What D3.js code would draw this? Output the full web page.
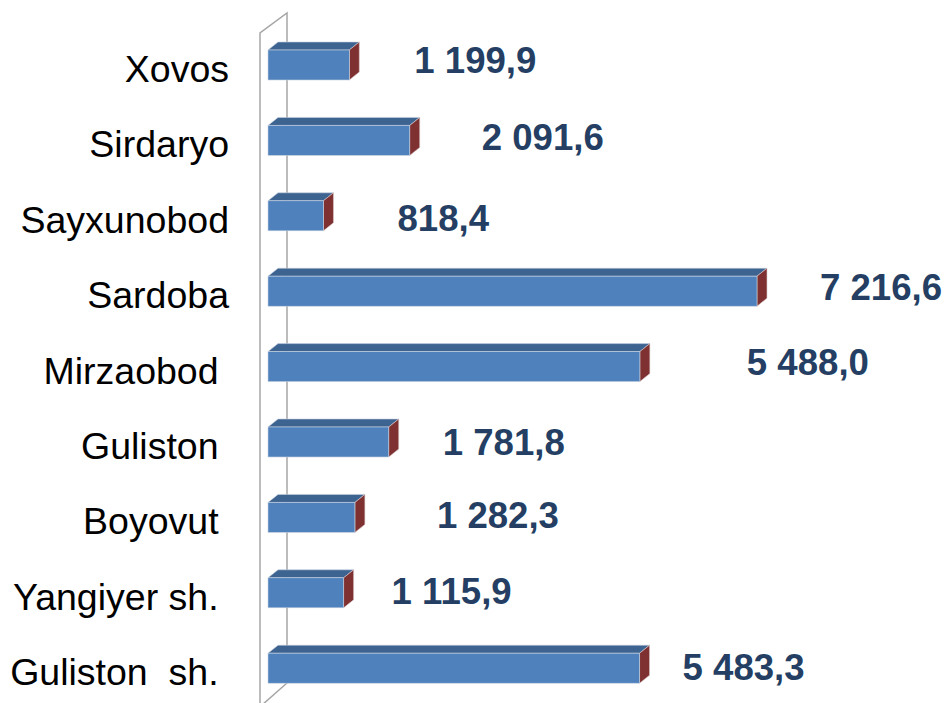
<!DOCTYPE html>
<html>
<head>
<meta charset="utf-8">
<script src="https://cdn.jsdelivr.net/npm/d3@7"></script>
<style>
  html, body { margin: 0; padding: 0; background: #ffffff; }
  svg text { white-space: pre; }
</style>
</head>
<body>
<div id="chart"></div>
<script>
// ---- data ----
const categories = ["Xovos", "Sirdaryo", "Sayxunobod", "Sardoba", "Mirzaobod ", "Guliston ", "Boyovut ", "Yangiyer sh. ", "Guliston  sh. "];
const values = [1199.9, 2091.6, 818.4, 7216.6, 5488.0, 1781.8, 1282.3, 1115.9, 5483.3];
const valueLabels = ["1 199,9", "2 091,6", "818,4", "7 216,6", "5 488,0", "1 781,8", "1 282,3", "1 115,9", "5 483,3"];

// ---- layout (manual label placement like the original) ----
const labelDx = [65, 72, 74, 63, 107, 54, 82, 48, 43];   // gap from bar end to label
const labelDy = [8, 10, 15, 9, 8, 13, 11, 11, 12];       // baseline offset from bar face top

const W = 946, H = 703;
const svg = d3.select("#chart").append("svg")
  .attr("width", W).attr("height", H)
  .attr("xml:space", "preserve");

const x = d3.scaleLinear().domain([0, 8000]).range([268, 268 + 8000 * 0.06776]);
const y = d3.scaleBand().domain(categories)
  .range([27.3, 27.3 + 9 * 75.4])
  .paddingInner(0.602).paddingOuter(0.301);

const depthX = 10, depthY = 8;

// wall (axis plane)
const wall = svg.append("g").attr("fill", "none").attr("stroke", "#a6a6a6").attr("stroke-width", 1.5);
wall.append("path").attr("d", `M260,${H + 2} L260,33 L287,13 L287,683 L262,${H + 2}`);

// bars
const g = svg.append("g");
const rows = categories.map((c, i) => ({ c, v: values[i], lab: valueLabels[i], i }));

const bar = g.selectAll("g.bar").data(rows).join("g").attr("class", "bar");

// top face
bar.append("path")
  .attr("d", d => {
    const x0 = x(0), x1 = x(d.v), y0 = y(d.c);
    return `M${x0},${y0} L${x0 + depthX},${y0 - depthY} L${x1 + depthX},${y0 - depthY} L${x1},${y0} Z`;
  })
  .attr("fill", "#3d6391")
  .attr("stroke", "#c9d3e0").attr("stroke-width", 0.6);

// right side face
bar.append("path")
  .attr("d", d => {
    const x1 = x(d.v), y0 = y(d.c), y1 = y0 + y.bandwidth();
    return `M${x1},${y0} L${x1 + depthX},${y0 - depthY} L${x1 + depthX},${y1 - depthY} L${x1},${y1} Z`;
  })
  .attr("fill", "#7f3131")
  .attr("stroke", "#d9c9c9").attr("stroke-width", 0.6);

// front face
bar.append("rect")
  .attr("x", x(0))
  .attr("y", d => y(d.c))
  .attr("width", d => x(d.v) - x(0))
  .attr("height", y.bandwidth())
  .attr("fill", "#4f81bd")
  .attr("stroke", "#c8d2de").attr("stroke-width", 0.6);

// category labels
svg.append("g").selectAll("text").data(rows).join("text")
  .attr("x", 229)
  .attr("y", d => y(d.c) + y.bandwidth() / 2 + 17)
  .attr("text-anchor", "end")
  .attr("font-family", "'Liberation Sans', Arial, sans-serif")
  .attr("font-size", 37.5)
  .attr("fill", "#000000")
  .text(d => d.c);

// value labels
svg.append("g").selectAll("text").data(rows).join("text")
  .attr("x", d => x(d.v) + labelDx[d.i])
  .attr("y", d => y(d.c) + labelDy[d.i] + 15)
  .attr("font-family", "'Liberation Sans', Arial, sans-serif")
  .attr("font-size", 36.6)
  .attr("font-weight", "bold")
  .attr("fill", "#243f63")
  .text(d => d.lab);
</script>
</body>
</html>
